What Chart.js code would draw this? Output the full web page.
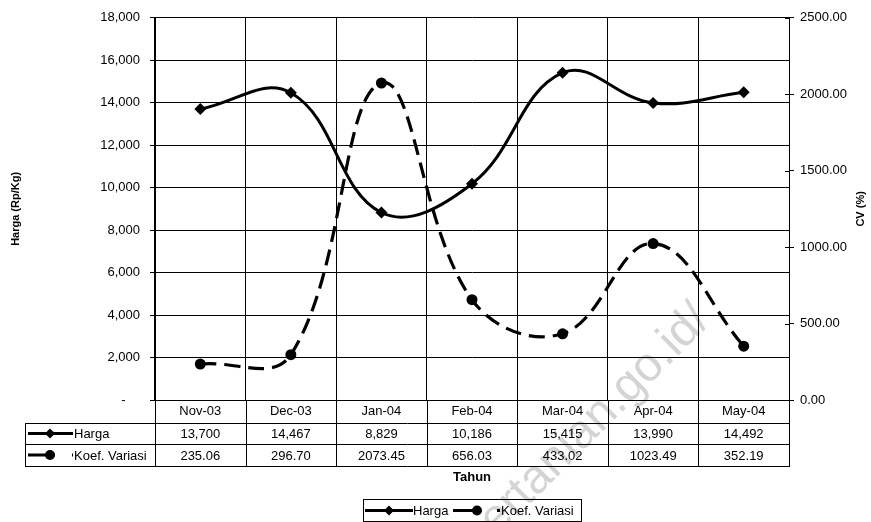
<!DOCTYPE html>
<html><head><meta charset="utf-8">
<script src="https://cdn.jsdelivr.net/npm/chart.js@4"></script>
<style>html,body{margin:0;padding:0;background:#fff;}canvas{display:block;}</style>
</head><body>
<canvas id="c" width="871" height="522"></canvas>
<script>
// ---- data ----
const categories = ['Nov-03','Dec-03','Jan-04','Feb-04','Mar-04','Apr-04','May-04'];
const hargaValues = [13700,14467,8829,10186,15415,13990,14492];
const cvValues = [235.06,296.70,2073.45,656.03,433.02,1023.49,352.19];
const seriesNames = ['Harga','Koef. Variasi'];
const hargaAxisRange = [0,18000,2000];
const cvAxisRange = [0,2500,500];
const axisTitles = ['Harga (Rp/Kg)','CV (%)','Tahun'];
const watermarkText = 'pertanian.go.id/';

const fmtHarga = v => v.toLocaleString('en-US');
const fmtCV = v => v.toFixed(2);

Chart.defaults.font.family = 'Arial, "Liberation Sans", sans-serif';
Chart.defaults.color = '#000';

function drawMarker(ctx, style, x, y, r){
  ctx.save();
  ctx.fillStyle='#000';
  ctx.beginPath();
  if(style==='diamond'){
    ctx.moveTo(x, y-r); ctx.lineTo(x+r, y); ctx.lineTo(x, y+r); ctx.lineTo(x-r, y); ctx.closePath();
  } else {
    ctx.arc(x, y, r, 0, Math.PI*2);
  }
  ctx.fill();
  ctx.restore();
}
function drawKey(ctx, idx, x0, x1, y, mx){
  ctx.save();
  ctx.strokeStyle='#000'; ctx.lineWidth=3; ctx.lineCap='butt';
  if(idx===1) ctx.setLineDash([27,17]);
  ctx.beginPath(); ctx.moveTo(x0,y); ctx.lineTo(x1,y); ctx.stroke();
  ctx.restore();
  if(idx===0) drawMarker(ctx,'diamond',mx,y,5);
  else drawMarker(ctx,'circle',mx,y,5);
}
function hline(ctx,x0,x1,y){ctx.beginPath();ctx.moveTo(x0,Math.round(y)+0.5);ctx.lineTo(x1,Math.round(y)+0.5);ctx.stroke();}
function vline(ctx,x,y0,y1){ctx.beginPath();ctx.moveTo(Math.round(x)+0.5,y0);ctx.lineTo(Math.round(x)+0.5,y1);ctx.stroke();}

const tablePlugin = {
  id:'tablePlugin',
  afterDraw(chart){
    const ctx = chart.ctx, xs = chart.scales.x, a = chart.chartArea;
    const step = xs.getPixelForValue(1) - xs.getPixelForValue(0);
    const r1 = a.bottom+23, r2 = a.bottom+44, r3 = a.bottom+66;
    const tableLeft = 25;
    ctx.save();
    ctx.strokeStyle='#000'; ctx.lineWidth=1;
    hline(ctx, tableLeft, a.right+1, r1);
    hline(ctx, tableLeft, a.right+1, r2);
    hline(ctx, tableLeft, a.right+1, r3);
    vline(ctx, tableLeft, r1, r3+1);
    for(let i=0;i<=categories.length;i++){
      const bx = xs.getPixelForValue(0) - step/2 + i*step;
      vline(ctx, bx, a.bottom, r3+1);
    }
    // right axis inner tick marks
    const ys = chart.scales.y1;
    for(let v=cvAxisRange[0]; v<=cvAxisRange[1]; v+=cvAxisRange[2]){
      hline(ctx, a.right-4, a.right, ys.getPixelForValue(v));
    }
    ctx.fillStyle='#000';
    ctx.font='13px Arial, "Liberation Sans", sans-serif';
    ctx.textAlign='center'; ctx.textBaseline='middle';
    categories.forEach((c,i)=>{
      const cx = xs.getPixelForValue(i);
      ctx.fillText(fmtHarga(hargaValues[i]), cx, (r1+r2)/2+1);
      ctx.fillText(fmtCV(cvValues[i]), cx, (r2+r3)/2+1);
    });
    // row labels
    const y1 = (r1+r2)/2, y2=(r2+r3)/2;
    drawKey(ctx,0,28,73,y1,50);
    drawKey(ctx,1,28,73,y2,50);
    ctx.textAlign='left';
    ctx.fillText(seriesNames[0], 74, y1+1);
    ctx.fillText(seriesNames[1], 74, y2+1);
    // right axis title
    ctx.save();
    ctx.translate(861, (a.top+a.bottom)/2);
    ctx.rotate(-Math.PI/2);
    ctx.font='bold 11px Arial, "Liberation Sans", sans-serif';
    ctx.textAlign='center'; ctx.textBaseline='middle';
    ctx.fillText(axisTitles[1],0,0);
    ctx.restore();
    // legend
    ctx.strokeRect(363.5, 499.5, 218, 22);
    const ly = 510.5;
    drawKey(ctx,0,365,413,ly,389);
    ctx.textAlign='left';
    ctx.fillText(seriesNames[0], 413, ly+1);
    drawKey(ctx,1,453,500,ly,477);
    ctx.fillText(seriesNames[1], 501, ly+1);
    // watermark
    ctx.save();
    ctx.translate(712, 322);
    ctx.rotate(-45*Math.PI/180);
    ctx.font='48px Arial, "Liberation Sans", sans-serif';
    ctx.fillStyle='rgba(0,0,0,0.17)';
    ctx.textAlign='right'; ctx.textBaseline='alphabetic';
    ctx.fillText(watermarkText,0,0);
    ctx.restore();
    ctx.restore();
  }
};

new Chart(document.getElementById('c'), {
  type:'line',
  data:{
    labels:categories,
    datasets:[
      {label:seriesNames[0], data:hargaValues, yAxisID:'y', borderColor:'#000', backgroundColor:'#000',
       borderWidth:3, pointStyle:'rectRot', pointRadius:6, pointBorderWidth:0, tension:0.4, fill:false},
      {label:seriesNames[1], data:cvValues, yAxisID:'y1', borderColor:'#000', backgroundColor:'#000',
       borderWidth:3.2, borderDash:[16,8], borderCapStyle:'butt', pointStyle:'circle', pointRadius:5.5, pointBorderWidth:0, tension:0.4, fill:false}
    ]
  },
  options:{
    responsive:false, animation:false, devicePixelRatio:1,
    layout:{padding:{top:11,left:0,right:0,bottom:0}},
    plugins:{legend:{display:false}, tooltip:{enabled:false}},
    scales:{
      x:{type:'category', offset:true,
         grid:{offset:true, color:'#000', lineWidth:1, drawTicks:false},
         border:{color:'#000'},
         ticks:{color:'#000', font:{size:13}, padding:4, maxRotation:0, autoSkip:false},
         title:{display:true, text:axisTitles[2], color:'#000', font:{size:13, weight:'bold'}, padding:{top:0,bottom:37}},
         afterFit(s){s.height=122;}},
      y:{position:'left', min:hargaAxisRange[0], max:hargaAxisRange[1],
         ticks:{stepSize:hargaAxisRange[2], color:'#000', font:{size:13}, padding:10,
                callback:v=> v===0 ? '-    ' : fmtHarga(v)},
         grid:{color:'#000', lineWidth:1, tickLength:5},
         border:{color:'#000'},
         title:{display:true, text:axisTitles[0], color:'#000', font:{size:11, weight:'bold'}, padding:{top:9.4,bottom:0}},
         afterFit(s){s.width=155;}},
      y1:{position:'right', min:cvAxisRange[0], max:cvAxisRange[1],
         ticks:{stepSize:cvAxisRange[2], color:'#000', font:{size:13}, padding:6, callback:v=>fmtCV(v)},
         grid:{drawOnChartArea:false, color:'#000', tickLength:5},
         border:{color:'#000'},
         afterFit(s){s.width=82;}}
    }
  },
  plugins:[tablePlugin]
});
</script>
</body></html>
